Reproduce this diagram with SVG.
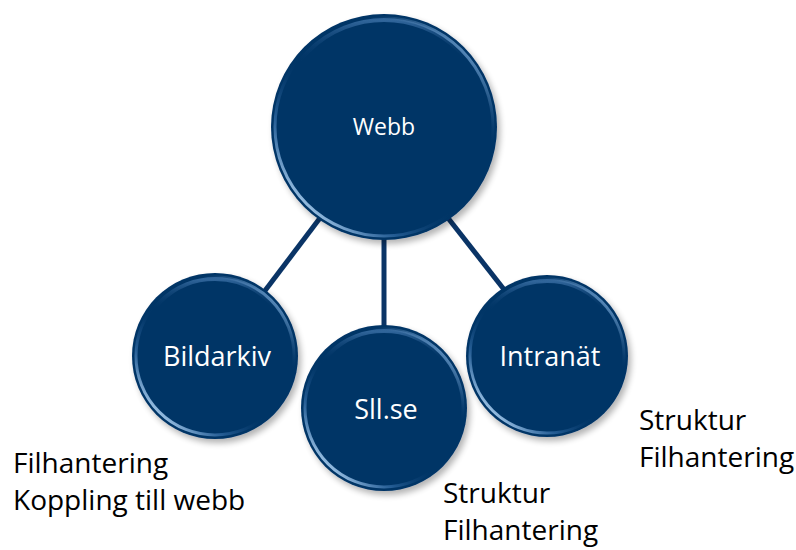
<svg xmlns="http://www.w3.org/2000/svg" width="796" height="550" viewBox="0 0 796 550">
<style>
.node-label{font-family:"Open Sans","Liberation Sans",sans-serif;fill:#ffffff;text-anchor:middle}
.note{font-family:"Open Sans","Liberation Sans",sans-serif;font-size:28px;fill:#000000}
.conn{stroke:#0a3466;stroke-width:5;fill:none}
.base{fill:#053466;filter:url(#shadow)}
.rim{fill:none;stroke:url(#rimGrad);stroke-width:3}
.gloss{fill:none;stroke:url(#topGrad);stroke-width:4}
</style>
<defs>
<filter id="shadow" x="-20%" y="-20%" width="150%" height="150%">
<feGaussianBlur in="SourceAlpha" stdDeviation="3"/>
<feOffset dx="3" dy="4" result="b"/>
<feComponentTransfer><feFuncA type="linear" slope="0.3"/></feComponentTransfer>
<feMerge><feMergeNode/><feMergeNode in="SourceGraphic"/></feMerge>
</filter>
<linearGradient id="rimGrad" x1="0.1" y1="0.9" x2="0.9" y2="0.1">
<stop offset="0" stop-color="#c8e6ff" stop-opacity="1"/>
<stop offset="0.22" stop-color="#4f8ac8" stop-opacity="0.45"/>
<stop offset="0.45" stop-color="#053466" stop-opacity="0"/>
<stop offset="0.75" stop-color="#053466" stop-opacity="0"/>
<stop offset="1" stop-color="#9fd0ff" stop-opacity="0.85"/>
</linearGradient>
<linearGradient id="topGrad" x1="0" y1="0" x2="0" y2="1">
<stop offset="0" stop-color="#5a8fc8" stop-opacity="0.55"/>
<stop offset="0.2" stop-color="#053466" stop-opacity="0"/>
<stop offset="1" stop-color="#053466" stop-opacity="0"/>
</linearGradient>
</defs>
<g id="connectors">
<line class="conn" x1="320" y1="218" x2="264" y2="292"/>
<line class="conn" x1="384" y1="238" x2="384" y2="326"/>
<line class="conn" x1="448" y1="218" x2="506" y2="292"/>
</g>
<g id="node-webb">
<circle class="base" cx="384" cy="127" r="113"/>
<circle class="gloss" cx="384" cy="127" r="107"/>
<circle class="rim" cx="384" cy="127" r="109"/>
<text class="node-label" x="384" y="135" font-size="23">Webb</text>
</g>
<g id="node-bildarkiv">
<circle class="base" cx="215" cy="356" r="83"/>
<circle class="gloss" cx="215" cy="356" r="77"/>
<circle class="rim" cx="215" cy="356" r="79"/>
<text class="node-label" x="217" y="366" font-size="27">Bildarkiv</text>
</g>
<g id="node-sll">
<circle class="base" cx="384" cy="408" r="83"/>
<circle class="gloss" cx="384" cy="408" r="77"/>
<circle class="rim" cx="384" cy="408" r="79"/>
<text class="node-label" x="386" y="419" font-size="27">Sll.se</text>
</g>
<g id="node-intranat">
<circle class="base" cx="547" cy="356" r="81"/>
<circle class="gloss" cx="547" cy="356" r="75"/>
<circle class="rim" cx="547" cy="356" r="77"/>
<text class="node-label" x="550" y="366" font-size="27">Intranät</text>
</g>
<g id="notes">
<text class="note" x="13" y="473">Filhantering</text>
<text class="note" x="13" y="510">Koppling till webb</text>
<text class="note" x="443" y="503">Struktur</text>
<text class="note" x="443" y="540">Filhantering</text>
<text class="note" x="639" y="430">Struktur</text>
<text class="note" x="639" y="467">Filhantering</text>
</g>
</svg>
